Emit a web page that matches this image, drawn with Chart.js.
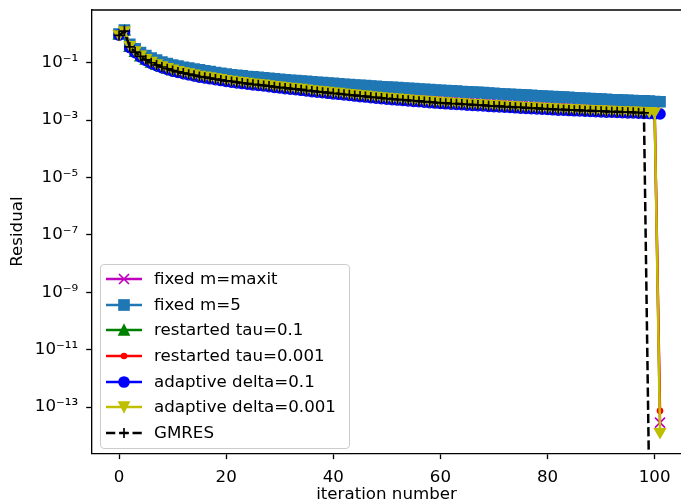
<!DOCTYPE html>
<html>
<head>
<meta charset="utf-8">
<title>Residual history</title>
<script src="https://cdn.jsdelivr.net/npm/chart.js@4/dist/chart.umd.min.js"></script>
<style>
  html, body { margin: 0; padding: 0; background: #fff; }
  #wrap { position: relative; width: 681px; height: 503px; overflow: hidden; }
  #plot { position: absolute; left: 0; top: 0; }
  #legend {
    position: absolute; left: 100px; top: 264px; width: 248px; height: 183px;
    border: 1px solid #cccccc; border-radius: 4px; background: rgba(255, 255, 255, 0.8);
    font-family: 'DejaVu Sans', sans-serif; font-size: 16.67px; color: #000;
  }
  .row { position: absolute; left: 0; width: 100%; height: 20px; line-height: 20px; white-space: nowrap; }
  .row svg { position: absolute; left: 4px; top: 0; }
  .row span { position: absolute; left: 53px; top: 0; }
</style>
</head>
<body>
<div id="wrap">
  <canvas id="plot" width="681" height="503"></canvas>
  <div id="legend"></div>
</div>
<script>
// tick labels
const xTicks = [0, 20, 40, 60, 80, 100]
const yTickExponents = [-13, -11, -9, -7, -5, -3, -1]

// log10 of the residual, one entry per iteration (0, 1, 2, ...)
// fixed m=maxit, restarted tau=0.001 and adaptive delta=0.001 follow the same path up to iteration 100
const sharedPath = [
  0.00, 0.14, -0.38, -0.56, -0.71, -0.83, -0.93, -1.01, -1.08, -1.14,
  -1.20, -1.25, -1.29, -1.33, -1.37, -1.41, -1.44, -1.47, -1.50, -1.53,
  -1.56, -1.585, -1.61, -1.635, -1.66, -1.68, -1.70, -1.72, -1.745, -1.77,
  -1.79, -1.81, -1.83, -1.85, -1.87, -1.895, -1.915, -1.935, -1.955, -1.975,
  -1.995, -2.01, -2.03, -2.05, -2.07, -2.09, -2.105, -2.125, -2.145, -2.16,
  -2.18, -2.195, -2.21, -2.225, -2.24, -2.255, -2.27, -2.285, -2.30, -2.315,
  -2.33, -2.34, -2.35, -2.36, -2.37, -2.385, -2.395, -2.405, -2.415, -2.43,
  -2.44, -2.45, -2.46, -2.47, -2.48, -2.49, -2.50, -2.51, -2.52, -2.53,
  -2.54, -2.55, -2.56, -2.565, -2.575, -2.585, -2.59, -2.60, -2.605, -2.615,
  -2.62, -2.63, -2.635, -2.64, -2.65, -2.655, -2.66, -2.67, -2.675, -2.68,
  -2.69
]
const fixedMaxitFinal = -13.54
const restartedTau001Final = -13.13
const adaptiveDelta001Final = -13.86

const fixedM5 = [
  0.00, 0.14, -0.36, -0.52, -0.65, -0.75, -0.84, -0.91, -0.98, -1.03,
  -1.08, -1.12, -1.16, -1.19, -1.22, -1.25, -1.28, -1.31, -1.34, -1.37,
  -1.40, -1.42, -1.44, -1.46, -1.48, -1.49, -1.51, -1.53, -1.545, -1.565,
  -1.58, -1.595, -1.61, -1.625, -1.64, -1.65, -1.665, -1.68, -1.695, -1.71,
  -1.72, -1.735, -1.75, -1.76, -1.775, -1.79, -1.80, -1.815, -1.825, -1.84,
  -1.85, -1.86, -1.87, -1.885, -1.895, -1.905, -1.915, -1.93, -1.94, -1.95,
  -1.96, -1.97, -1.98, -1.99, -2.005, -2.015, -2.025, -2.035, -2.045, -2.06,
  -2.07, -2.08, -2.09, -2.10, -2.11, -2.12, -2.13, -2.14, -2.15, -2.16,
  -2.17, -2.18, -2.19, -2.20, -2.21, -2.22, -2.23, -2.24, -2.25, -2.26,
  -2.27, -2.28, -2.29, -2.295, -2.30, -2.31, -2.32, -2.325, -2.33, -2.34,
  -2.35, -2.36
]

const restartedTau01 = [
  -0.06, 0.08, -0.49, -0.67, -0.82, -0.94, -1.04, -1.12, -1.19, -1.25,
  -1.31, -1.36, -1.40, -1.44, -1.48, -1.52, -1.55, -1.58, -1.61, -1.64,
  -1.67, -1.695, -1.72, -1.745, -1.77, -1.79, -1.81, -1.83, -1.855, -1.88,
  -1.90, -1.92, -1.94, -1.96, -1.98, -2.005, -2.025, -2.045, -2.065, -2.085,
  -2.105, -2.12, -2.14, -2.16, -2.18, -2.20, -2.215, -2.235, -2.255, -2.27,
  -2.29, -2.305, -2.32, -2.335, -2.35, -2.365, -2.38, -2.395, -2.41, -2.425,
  -2.44, -2.45, -2.46, -2.47, -2.48, -2.495, -2.505, -2.515, -2.525, -2.54,
  -2.55, -2.56, -2.57, -2.58, -2.59, -2.60, -2.61, -2.62, -2.63, -2.64,
  -2.65, -2.66, -2.67, -2.675, -2.685, -2.695, -2.70, -2.71, -2.715, -2.725,
  -2.73, -2.74, -2.745, -2.75, -2.76, -2.765, -2.77, -2.78, -2.785, -2.79,
  -2.80
]

const adaptiveDelta01 = [
  -0.04, 0.09, -0.47, -0.65, -0.80, -0.92, -1.02, -1.10, -1.17, -1.23,
  -1.29, -1.34, -1.38, -1.42, -1.46, -1.50, -1.53, -1.56, -1.59, -1.62,
  -1.65, -1.675, -1.70, -1.725, -1.75, -1.77, -1.79, -1.81, -1.835, -1.86,
  -1.88, -1.90, -1.92, -1.94, -1.96, -1.985, -2.005, -2.025, -2.045, -2.065,
  -2.085, -2.10, -2.12, -2.14, -2.16, -2.18, -2.195, -2.215, -2.235, -2.25,
  -2.27, -2.285, -2.30, -2.315, -2.33, -2.345, -2.36, -2.375, -2.39, -2.405,
  -2.42, -2.43, -2.44, -2.45, -2.46, -2.475, -2.485, -2.495, -2.505, -2.52,
  -2.53, -2.54, -2.55, -2.56, -2.57, -2.58, -2.59, -2.60, -2.61, -2.62,
  -2.63, -2.64, -2.65, -2.655, -2.665, -2.675, -2.68, -2.69, -2.695, -2.705,
  -2.71, -2.72, -2.725, -2.73, -2.74, -2.745, -2.75, -2.76, -2.765, -2.77,
  -2.78, -2.785
]

// GMRES converges at iteration 99; that last residual lies below the plotted range
const gmres = [
  -0.05, 0.10, -0.45, -0.63, -0.78, -0.90, -1.00, -1.08, -1.15, -1.21,
  -1.27, -1.32, -1.36, -1.40, -1.44, -1.48, -1.51, -1.54, -1.57, -1.60,
  -1.63, -1.655, -1.68, -1.705, -1.73, -1.75, -1.77, -1.79, -1.815, -1.84,
  -1.86, -1.88, -1.90, -1.92, -1.94, -1.965, -1.985, -2.005, -2.025, -2.045,
  -2.065, -2.08, -2.10, -2.12, -2.14, -2.16, -2.175, -2.195, -2.215, -2.23,
  -2.25, -2.265, -2.28, -2.295, -2.31, -2.325, -2.34, -2.355, -2.37, -2.385,
  -2.40, -2.41, -2.42, -2.43, -2.44, -2.455, -2.465, -2.475, -2.485, -2.50,
  -2.51, -2.52, -2.53, -2.54, -2.55, -2.56, -2.57, -2.58, -2.59, -2.60,
  -2.61, -2.62, -2.63, -2.635, -2.645, -2.655, -2.66, -2.67, -2.675, -2.685,
  -2.69, -2.70, -2.705, -2.71, -2.72, -2.725, -2.73, -2.74, -2.745, -16
]

const FONT = 'DejaVu Sans'
const FS = 16.67

const toPoints = logs => logs.map((v, i) => ({ x: i, y: Math.pow(10, v) }))

const supMap = { '-': '\u207B', '0': '\u2070', '1': '\u00B9', '2': '\u00B2', '3': '\u00B3',
  '4': '\u2074', '5': '\u2075', '6': '\u2076', '7': '\u2077', '8': '\u2078', '9': '\u2079' }
const powLabel = e => '10' + String(e).split('').map(c => supMap[c]).join('')

const series = [
  { label: 'fixed m=maxit', logs: [...sharedPath, fixedMaxitFinal], color: '#bf00bf', style: 'crossRot', r: 7.07 },
  { label: 'fixed m=5', logs: fixedM5, color: '#1f77b4', style: 'rect', r: 7.07 },
  { label: 'restarted tau=0.1', logs: restartedTau01, color: '#008000', style: 'triangle', r: 6 },
  { label: 'restarted tau=0.001', logs: [...sharedPath, restartedTau001Final], color: '#ff0000', style: 'circle', r: 2.5 },
  { label: 'adaptive delta=0.1', logs: adaptiveDelta01, color: '#0000ff', style: 'circle', r: 5 },
  { label: 'adaptive delta=0.001', logs: [...sharedPath, adaptiveDelta001Final], color: '#bfbf00', style: 'triangle', r: 6, rot: 180 },
  { label: 'GMRES', logs: gmres, color: '#000000', style: 'cross', r: 5, dash: [9.25, 4] }
]

const datasets = series.map((s, i) => ({
  label: s.label,
  data: toPoints(s.logs),
  borderColor: s.color,
  backgroundColor: s.color,
  borderWidth: 2.5,
  borderDash: s.dash || [],
  pointStyle: s.style,
  pointRotation: s.rot || 0,
  pointRadius: s.r,
  pointBorderWidth: 1.67,
  pointBackgroundColor: s.color,
  pointBorderColor: s.color,
  tension: 0,
  // first series at the bottom, GMRES on top
  order: series.length - i
}))

// top spine; the right one falls outside the canvas
const frame = {
  id: 'frame',
  afterDraw(chart) {
    const { ctx, chartArea } = chart
    ctx.save()
    ctx.strokeStyle = '#000'
    ctx.lineWidth = 1.33
    ctx.beginPath()
    ctx.moveTo(chartArea.left, chartArea.top)
    ctx.lineTo(chartArea.right, chartArea.top)
    ctx.stroke()
    ctx.restore()
  }
}

Chart.defaults.font.family = FONT

new Chart(document.getElementById('plot'), {
  type: 'line',
  data: { datasets },
  options: {
    responsive: false,
    animation: false,
    devicePixelRatio: 1,
    layout: { autoPadding: false, padding: { top: 10, left: 0, right: 0, bottom: 0 } },
    plugins: { legend: { display: false }, tooltip: { enabled: false } },
    scales: {
      x: {
        type: 'linear',
        min: -5.05,
        max: 104.92,
        afterBuildTicks: s => { s.ticks = xTicks.map(v => ({ value: v })) },
        afterFit: s => { s.height = 49.7; s.paddingLeft = 0; s.paddingRight = 0 },
        grid: { drawOnChartArea: false, drawTicks: true, tickLength: 5.8, tickWidth: 1.33, tickColor: '#000' },
        border: { display: true, color: '#000', width: 1.33 },
        ticks: { color: '#000', font: { size: FS }, padding: 9, maxRotation: 0, autoSkip: false },
        title: { display: true, text: 'iteration number', color: '#000', font: { size: FS, lineHeight: 1 }, padding: 0 }
      },
      y: {
        type: 'logarithmic',
        min: Math.pow(10, -14.61),
        max: Math.pow(10, 0.837),
        afterBuildTicks: s => { s.ticks = yTickExponents.map(e => ({ value: Math.pow(10, e) })) },
        afterFit: s => { s.width = 92; s.paddingTop = 0; s.paddingBottom = 0 },
        grid: { drawOnChartArea: false, drawTicks: true, tickLength: 5.8, tickWidth: 1.33, tickColor: '#000' },
        border: { display: true, color: '#000', width: 1.33 },
        ticks: {
          color: '#000', font: { size: FS }, padding: 8, autoSkip: false,
          callback: v => powLabel(Math.round(Math.log10(v)))
        },
        title: { display: true, text: 'Residual', color: '#000', font: { size: FS, lineHeight: 1 }, padding: { top: 9.5 } }
      }
    }
  },
  plugins: [frame]
})

// legend: line handle with marker, then label
const markerSvg = s => {
  const c = s.color
  switch (s.style) {
    case 'crossRot': return `<path d="M14 5 L24 15 M14 15 L24 5" stroke="${c}" stroke-width="1.67"/>`
    case 'rect': return `<rect x="14" y="5" width="10" height="10" fill="${c}" stroke="${c}" stroke-width="1.67"/>`
    case 'triangle': return s.rot
      ? `<polygon points="14,5 24,5 19,15" fill="${c}" stroke="${c}" stroke-width="1.67"/>`
      : `<polygon points="19,5 14,15 24,15" fill="${c}" stroke="${c}" stroke-width="1.67"/>`
    case 'circle': return `<circle cx="19" cy="10" r="${s.r}" fill="${c}" stroke="${c}" stroke-width="1.67"/>`
    case 'cross': return `<path d="M14 10 L24 10 M19 5 L19 15" stroke="${c}" stroke-width="1.67"/>`
  }
  return ''
}

const legend = document.getElementById('legend')
series.forEach((s, k) => {
  const row = document.createElement('div')
  row.className = 'row'
  row.style.top = (3.8 + k * 25.7) + 'px'
  const dash = s.dash ? ` stroke-dasharray="${s.dash.join(' ')}"` : ''
  row.innerHTML =
    `<svg width="38" height="20" viewBox="0 0 38 20">` +
    `<line x1="1" y1="10" x2="37" y2="10" stroke="${s.color}" stroke-width="2.5"${dash}/>` +
    markerSvg(s) + `</svg><span>${s.label}</span>`
  legend.appendChild(row)
})
</script>
</body>
</html>
